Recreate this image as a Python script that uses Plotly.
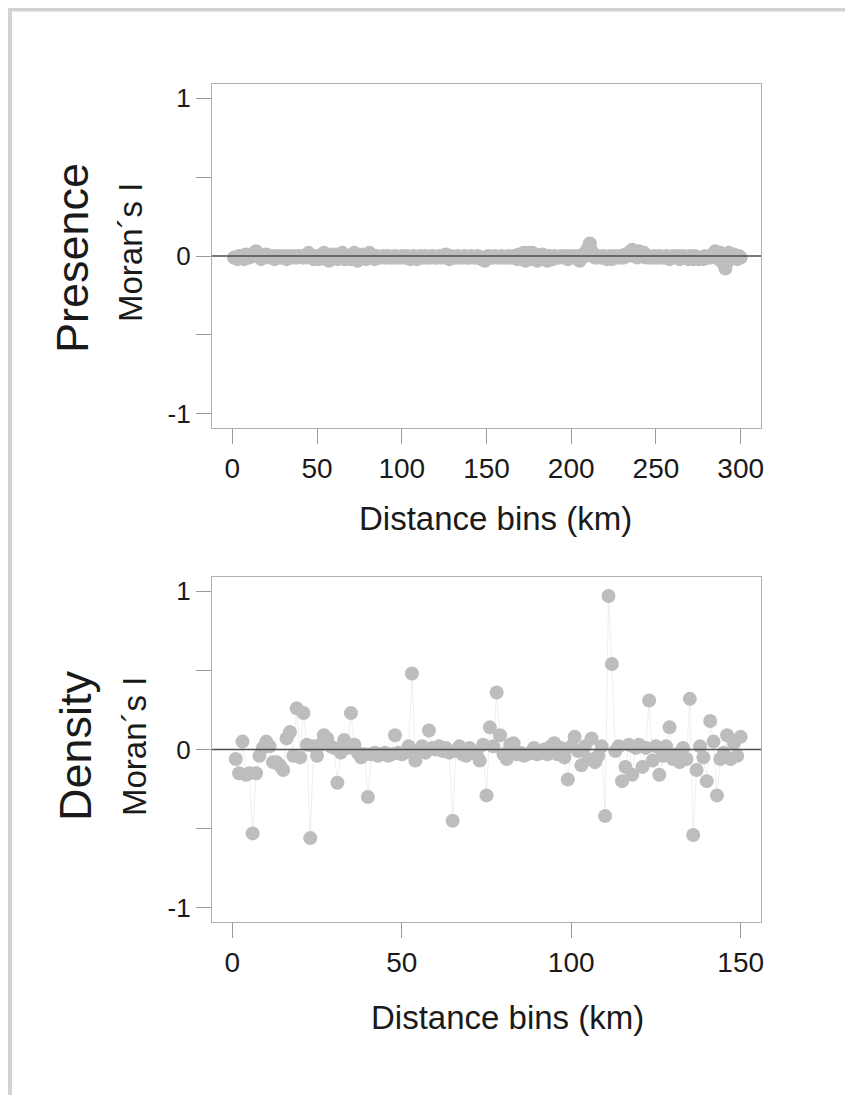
import plotly.graph_objects as go

# ---------------- data ----------------
presence_bins = list(range(1, 301))
presence_moran = [
    -0.01, -0.01, -0.02, 0.00, -0.01, -0.01, -0.02, 0.01, -0.01, -0.01, 0.01, 0.00, 0.02, 0.03, 0.01, 0.00, -0.02, 0.00, -0.01, 0.01,
    0.00, -0.01, -0.01, 0.00, -0.02, -0.01, 0.00, -0.01, -0.01, 0.00, -0.01, -0.02, 0.00, -0.01, -0.01, 0.00, -0.01, -0.01, 0.00, 0.00,
    -0.01, -0.01, 0.00, -0.01, 0.02, 0.00, -0.01, -0.02, -0.01, 0.00, -0.02, -0.01, 0.00, 0.02, -0.02, -0.01, -0.03, 0.01, 0.00, -0.01,
    0.01, -0.02, -0.01, 0.00, 0.02, -0.02, -0.02, 0.00, -0.01, -0.02, 0.00, 0.02, -0.02, -0.03, -0.01, 0.00, 0.01, -0.01, -0.02, 0.00,
    0.02, 0.00, -0.01, -0.02, 0.00, -0.01, -0.01, -0.01, 0.00, -0.01, -0.01, 0.00, -0.01, -0.01, -0.01, 0.00, -0.01, -0.01, -0.01, 0.00,
    -0.01, -0.01, 0.00, -0.01, -0.02, -0.01, 0.00, -0.01, -0.02, -0.01, 0.00, -0.01, -0.01, 0.00, -0.01, -0.01, -0.01, 0.00, -0.01, -0.01,
    -0.01, 0.00, -0.01, -0.01, 0.00, 0.01, -0.01, -0.02, 0.00, -0.01, -0.01, -0.01, 0.00, -0.01, -0.01, -0.01, 0.00, -0.01, -0.01, -0.01,
    0.00, -0.01, -0.01, -0.01, 0.00, -0.01, -0.02, -0.01, -0.03, -0.01, 0.00, -0.01, -0.01, -0.01, 0.00, -0.01, -0.01, -0.01, 0.00, -0.01,
    -0.01, -0.01, 0.00, -0.01, -0.01, 0.00, -0.01, -0.02, 0.01, 0.00, -0.02, 0.02, -0.03, 0.00, 0.02, -0.02, 0.02, -0.01, 0.01, -0.03,
    0.00, -0.02, 0.01, -0.02, -0.01, -0.03, 0.00, -0.01, -0.02, 0.00, -0.01, -0.01, -0.01, 0.00, -0.01, -0.01, 0.00, -0.02, -0.01, 0.00,
    -0.01, -0.01, 0.00, -0.02, -0.03, -0.01, 0.01, 0.00, 0.03, 0.05, 0.08, 0.03, 0.00, -0.01, -0.01, 0.00, -0.01, -0.01, 0.00, -0.01,
    -0.02, -0.01, 0.00, -0.02, -0.01, 0.00, -0.01, -0.01, 0.00, -0.01, -0.01, 0.01, 0.00, 0.02, 0.01, 0.04, 0.00, 0.02, -0.01, 0.03,
    0.01, 0.00, 0.02, -0.01, 0.00, -0.01, -0.01, -0.01, 0.00, -0.01, -0.01, 0.00, -0.01, -0.01, -0.01, 0.00, -0.01, -0.02, -0.01, 0.00,
    -0.01, -0.01, 0.00, -0.02, -0.01, 0.00, -0.01, -0.01, -0.02, 0.00, -0.01, -0.02, 0.00, -0.01, -0.02, -0.01, -0.01, -0.02, 0.00, -0.01,
    -0.01, -0.01, 0.00, 0.01, 0.03, 0.00, -0.02, 0.02, -0.03, -0.05, -0.08, -0.04, 0.02, 0.00, -0.01, 0.01, -0.01, -0.02, 0.00, -0.01,
]

density_bins = list(range(1, 151))
density_moran = [
    -0.06, -0.15, 0.05, -0.16, -0.15, -0.53, -0.15, -0.04, 0.01, 0.05,
    0.02, -0.08, -0.08, -0.10, -0.13, 0.07, 0.11, -0.04, 0.26, -0.05,
    0.23, 0.03, -0.56, 0.02, -0.04, 0.03, 0.09, 0.07, 0.02, 0.01,
    -0.21, -0.02, 0.06, 0.01, 0.23, 0.03, -0.02, -0.05, -0.03, -0.30,
    -0.03, -0.02, -0.04, -0.03, -0.02, -0.04, -0.03, 0.09, -0.02, -0.03,
    -0.02, 0.02, 0.48, -0.07, -0.01, 0.02, -0.02, 0.12, 0.01, 0.00,
    0.02, -0.01, 0.01, -0.02, -0.45, -0.01, 0.02, -0.03, -0.04, 0.01,
    -0.02, -0.03, -0.07, 0.03, -0.29, 0.14, 0.02, 0.36, 0.09, -0.03,
    -0.06, 0.03, 0.04, -0.03, -0.02, -0.04, -0.03, -0.02, 0.01, -0.03,
    -0.02, 0.00, -0.03, 0.02, 0.04, -0.03, 0.01, -0.05, -0.19, 0.02,
    0.08, -0.01, -0.10, 0.02, -0.06, 0.07, -0.08, -0.04, 0.02, -0.42,
    0.97, 0.54, -0.01, 0.02, -0.20, -0.11, 0.03, -0.16, 0.01, 0.03,
    -0.11, 0.01, 0.31, -0.07, 0.02, -0.16, -0.04, 0.02, 0.14, -0.06,
    -0.03, -0.08, 0.01, -0.06, 0.32, -0.54, -0.13, 0.02, -0.05, -0.20,
    0.18, 0.05, -0.29, -0.06, -0.02, 0.09, -0.06, 0.04, -0.04, 0.08,
]

presence_xticks = [0, 50, 100, 150, 200, 250, 300]
density_xticks = [0, 50, 100, 150]
y_tickvals = [-1, -0.5, 0, 0.5, 1]
y_ticktext = ["-1", "", "0", "", "1"]

panel_names = ["Presence", "Density"]
y_label = "Moran´s I"
x_label = "Distance bins (km)"

# ---------------- layout geometry (screen pixels) ----------------
OFF = 8                                  # page body margin
W, H = 853 - OFF, 1095 - OFF
L, R, T, B = 212, 761, 84, 922           # plotting region on screen
TOP_BOTTOM, BOT_TOP = 428, 577


def px_x(p):
    return (p - L) / (R - L)


def px_y(p):
    return (B - p) / (B - T)


FONT = "Liberation Sans, Arial, Helvetica, sans-serif"
MARKER = "#bdbdbd"
CONNECT = "#e4e4e4"
BOX = "#b0b0b0"

fig = go.Figure()
fig.add_trace(go.Scatter(
    x=presence_bins, y=presence_moran, mode="lines+markers",
    line=dict(color=CONNECT, width=0.6),
    marker=dict(color=MARKER, size=14, line=dict(width=0)),
    xaxis="x", yaxis="y", showlegend=False, hoverinfo="skip"))
fig.add_trace(go.Scatter(
    x=density_bins, y=density_moran, mode="lines+markers",
    line=dict(color=CONNECT, width=0.6),
    marker=dict(color=MARKER, size=14, line=dict(width=0)),
    xaxis="x2", yaxis="y2", showlegend=False, hoverinfo="skip"))

axis_common = dict(showgrid=False, zeroline=False, showline=True, mirror=True,
                   linecolor=BOX, linewidth=1.2, ticks="outside", ticklen=15,
                   tickcolor="#9a9a9a", tickwidth=1)
xfont = dict(family=FONT, size=28, color="#1a1a1a")
yfont = dict(family=FONT, size=26, color="#1a1a1a")

fig.update_layout(
    width=W, height=H,
    margin=dict(l=L - OFF, r=853 - R, t=T - OFF, b=1095 - B, pad=0),
    paper_bgcolor="white", plot_bgcolor="white",
    font=dict(family=FONT, color="#1a1a1a"),
    xaxis=dict(domain=[0, 1], range=[-12, 312], anchor="y", tickfont=xfont,
               tickvals=presence_xticks, ticklabelstandoff=0, **axis_common),
    yaxis=dict(domain=[px_y(TOP_BOTTOM), 1], range=[-1.09, 1.09], anchor="x", tickfont=yfont,
               tickvals=y_tickvals, ticktext=y_ticktext, ticklabelstandoff=0, **axis_common),
    xaxis2=dict(domain=[0, 1], range=[-6, 156], anchor="y2", tickfont=xfont,
                tickvals=density_xticks, ticklabelstandoff=0, **axis_common),
    yaxis2=dict(domain=[0, px_y(BOT_TOP)], range=[-1.09, 1.09], anchor="x2", tickfont=yfont,
                tickvals=y_tickvals, ticktext=y_ticktext, ticklabelstandoff=0, **axis_common),
)

# zero reference lines drawn above markers
for xr, yr in [("x domain", "y"), ("x2 domain", "y2")]:
    fig.add_shape(type="line", xref=xr, yref=yr, x0=0, x1=1, y0=0, y1=0,
                  line=dict(color="#4d4d4d", width=1.5), layer="above")

# outer gray frame (top and left edges)
fig.add_shape(type="line", xref="paper", yref="paper",
              x0=px_x(7), x1=px_x(870), y0=px_y(9), y1=px_y(9),
              line=dict(color="#d2d2d2", width=5), layer="above")
fig.add_shape(type="line", xref="paper", yref="paper",
              x0=px_x(9.5), x1=px_x(9.5), y0=px_y(6.5), y1=px_y(1110),
              line=dict(color="#d2d2d2", width=5), layer="above")

annotations = [
    dict(text=panel_names[0], x=px_x(73), y=px_y(258), size=45, angle=-90),
    dict(text=y_label, x=px_x(130), y=px_y(253), size=33, angle=-90),
    dict(text=panel_names[1], x=px_x(75), y=px_y(746), size=45, angle=-90),
    dict(text=y_label, x=px_x(134), y=px_y(747), size=33, angle=-90),
    dict(text=x_label, x=px_x(495), y=px_y(518), size=33, angle=0),
    dict(text=x_label, x=px_x(507), y=px_y(1017), size=33, angle=0),
]
for a in annotations:
    fig.add_annotation(text=a["text"], x=a["x"], y=a["y"], xref="paper", yref="paper",
                       xanchor="center", yanchor="middle", showarrow=False,
                       textangle=a["angle"],
                       font=dict(family=FONT, size=a["size"], color="#1a1a1a"))

fig.write_html("out.html", config={"displayModeBar": False})
